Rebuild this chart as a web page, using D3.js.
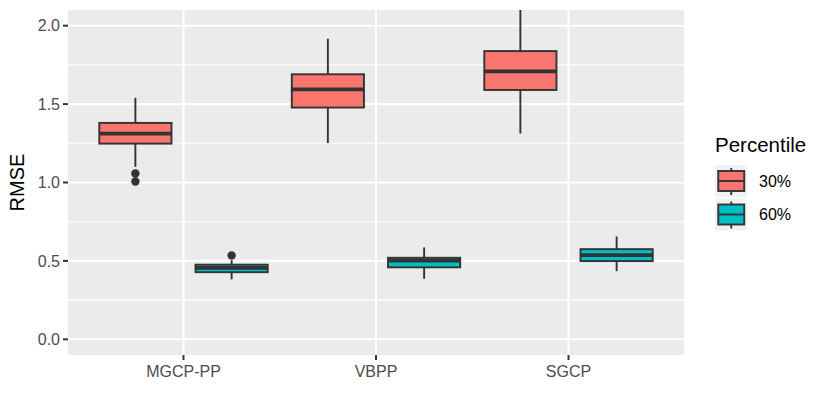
<!DOCTYPE html>
<html>
<head>
<meta charset="utf-8">
<script src="https://cdn.jsdelivr.net/npm/d3@7"></script>
<style>
  html, body { margin: 0; padding: 0; background: #fff; }
  svg { display: block; font-family: "Liberation Sans", Arial, Helvetica, sans-serif; }
</style>
</head>
<body>
<svg id="chart" width="830" height="415"></svg>
<script>
// ---- data ----
const categories = ["MGCP-PP", "VBPP", "SGCP"];
const groups = ["30%", "60%"];
const groupColors = ["#F8766D", "#00BFC4"];
const yTicks = [0.0, 0.5, 1.0, 1.5, 2.0];
const yMinorTicks = [0.25, 0.75, 1.25, 1.75];

// 30% percentile: [lower whisker, q1, median, q3, upper whisker]
const stats30 = [
  [1.10, 1.248, 1.312, 1.380, 1.540],
  [1.252, 1.478, 1.594, 1.690, 1.917],
  [1.312, 1.590, 1.709, 1.838, 2.200]
];
const outliers30 = [[1.057, 1.006], [], []];

// 60% percentile
const stats60 = [
  [0.382, 0.428, 0.456, 0.476, 0.505],
  [0.386, 0.459, 0.502, 0.520, 0.586],
  [0.435, 0.499, 0.537, 0.575, 0.656]
];
const outliers60 = [[0.535], [], []];

// ---- layout ----
const panel = { left: 68, right: 684, top: 10, bottom: 355 };
const svg = d3.select("#chart");

const y = d3.scaleLinear().domain([-0.1, 2.1]).range([panel.bottom, panel.top]);
const x = d3.scaleLinear().domain([0.4, 3.6]).range([panel.left, panel.right]);
const catPos = d => categories.indexOf(d) + 1;
const dodge = [-0.25, 0.25];
const boxW = 0.375;

svg.append("rect").attr("width", 830).attr("height", 415).attr("fill", "#fff");

// panel background
svg.append("rect")
  .attr("x", panel.left).attr("y", panel.top)
  .attr("width", panel.right - panel.left).attr("height", panel.bottom - panel.top)
  .attr("fill", "#EBEBEB");

// grid
const grid = svg.append("g");
grid.selectAll(".minor").data(yMinorTicks).join("line")
  .attr("x1", panel.left).attr("x2", panel.right)
  .attr("y1", d => y(d)).attr("y2", d => y(d))
  .attr("stroke", "#fff").attr("stroke-width", 1.1);
grid.selectAll(".major").data(yTicks).join("line")
  .attr("x1", panel.left).attr("x2", panel.right)
  .attr("y1", d => y(d)).attr("y2", d => y(d))
  .attr("stroke", "#fff").attr("stroke-width", 2.1);
grid.selectAll(".vmajor").data(categories).join("line")
  .attr("x1", d => x(catPos(d))).attr("x2", d => x(catPos(d)))
  .attr("y1", panel.top).attr("y2", panel.bottom)
  .attr("stroke", "#fff").attr("stroke-width", 2.1);

// clip
svg.append("clipPath").attr("id", "clip").append("rect")
  .attr("x", panel.left).attr("y", panel.top)
  .attr("width", panel.right - panel.left).attr("height", panel.bottom - panel.top);

const plot = svg.append("g").attr("clip-path", "url(#clip)");
const lineCol = "#333333";

function drawBoxes(stats, outs, gi) {
  stats.forEach((s, ci) => {
    const cx = x(ci + 1 + dodge[gi]);
    const hw = (x(boxW) - x(0)) / 2;
    const g = plot.append("g");
    g.append("line").attr("x1", cx).attr("x2", cx)
      .attr("y1", y(s[0])).attr("y2", y(s[1]))
      .attr("stroke", lineCol).attr("stroke-width", 1.9);
    g.append("line").attr("x1", cx).attr("x2", cx)
      .attr("y1", y(s[3])).attr("y2", y(s[4]))
      .attr("stroke", lineCol).attr("stroke-width", 1.9);
    g.append("rect")
      .attr("x", cx - hw).attr("y", y(s[3]))
      .attr("width", 2 * hw).attr("height", y(s[1]) - y(s[3]))
      .attr("fill", groupColors[gi]).attr("stroke", lineCol).attr("stroke-width", 1.9);
    g.append("line").attr("x1", cx - hw).attr("x2", cx + hw)
      .attr("y1", y(s[2])).attr("y2", y(s[2]))
      .attr("stroke", lineCol).attr("stroke-width", 3.7);
    g.selectAll("circle").data(outs[ci]).join("circle")
      .attr("cx", cx).attr("cy", d => y(d)).attr("r", 4.2)
      .attr("fill", lineCol);
  });
}
drawBoxes(stats30, outliers30, 0);
drawBoxes(stats60, outliers60, 1);

// axes
const tickCol = "#333333";
const textCol = "#4D4D4D";
const yAxis = svg.append("g");
yAxis.selectAll("line").data(yTicks).join("line")
  .attr("x1", panel.left - 5).attr("x2", panel.left)
  .attr("y1", d => y(d)).attr("y2", d => y(d))
  .attr("stroke", tickCol).attr("stroke-width", 2);
yAxis.selectAll("text").data(yTicks).join("text")
  .attr("x", panel.left - 8).attr("y", d => y(d))
  .attr("dy", "0.36em").attr("text-anchor", "end")
  .attr("font-size", 16).attr("fill", textCol)
  .text(d => d.toFixed(1));

const xAxis = svg.append("g");
xAxis.selectAll("line").data(categories).join("line")
  .attr("x1", d => x(catPos(d))).attr("x2", d => x(catPos(d)))
  .attr("y1", panel.bottom).attr("y2", panel.bottom + 5)
  .attr("stroke", tickCol).attr("stroke-width", 2);
xAxis.selectAll("text").data(categories).join("text")
  .attr("x", d => x(catPos(d))).attr("y", 377)
  .attr("text-anchor", "middle")
  .attr("font-size", 16).attr("fill", textCol)
  .text(d => d);

// y title
svg.append("text")
  .attr("transform", `translate(24,${(panel.top + panel.bottom) / 2}) rotate(-90)`)
  .attr("text-anchor", "middle")
  .attr("font-size", 20).attr("fill", "#000")
  .text("RMSE");

// legend
const leg = svg.append("g");
leg.append("text").attr("x", 715).attr("y", 152)
  .attr("font-size", 20.5).attr("fill", "#000").text("Percentile");
groups.forEach((gname, i) => {
  const ky = 165 + i * 33.5;
  const kx = 715, ks = 32.5;
  leg.append("rect").attr("x", kx).attr("y", ky).attr("width", ks).attr("height", 32)
    .attr("fill", "#F2F2F2");
  const cx = kx + ks / 2, cy = ky + 16;
  leg.append("line").attr("x1", cx).attr("x2", cx)
    .attr("y1", ky + 3).attr("y2", ky + 30)
    .attr("stroke", lineCol).attr("stroke-width", 1.9);
  leg.append("rect").attr("x", cx - 13).attr("y", cy - 10).attr("width", 26).attr("height", 20)
    .attr("fill", groupColors[i]).attr("stroke", lineCol).attr("stroke-width", 1.9);
  leg.append("line").attr("x1", cx - 13).attr("x2", cx + 13)
    .attr("y1", cy).attr("y2", cy)
    .attr("stroke", lineCol).attr("stroke-width", 1.9);
  leg.append("text").attr("x", 759).attr("y", cy).attr("dy", "0.36em")
    .attr("font-size", 16).attr("fill", "#000").text(gname);
});
</script>
</body>
</html>
